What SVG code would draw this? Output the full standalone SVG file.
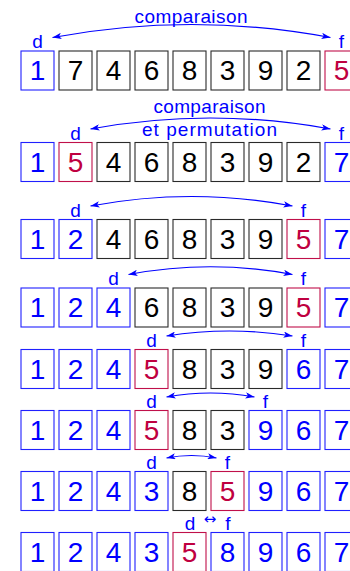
<svg xmlns="http://www.w3.org/2000/svg" width="350" height="571" viewBox="0 0 350 571">
<defs>
<marker id="ah" viewBox="0 0 10 7" refX="10" refY="3.5" markerWidth="9" markerHeight="6.3" markerUnits="userSpaceOnUse" orient="auto-start-reverse">
<path d="M0,0 L10,3.5 L0,7 L2.5,3.5 z" fill="#0000ff"/>
</marker>
<style>
rect{fill:none;stroke-width:1.1}
.b rect{stroke:#2020ff}
.k rect{stroke:#2a2a2a}
.r rect{stroke:#c0104a}
text{font-family:"Liberation Sans",Arial,sans-serif;text-anchor:middle}
.b text{fill:#0000ff;font-size:28px}
.k text{fill:#000;font-size:28px}
.r text{fill:#bf0040;font-size:28px}
.lbl{fill:#0000ff;font-size:19px}
.sym{fill:#0000ff;font-size:15px;font-family:"DejaVu Sans",sans-serif}
.arr{fill:none;stroke:#0000ff;stroke-width:1.2;marker-start:url(#ah);marker-end:url(#ah)}
</style>
</defs>
<rect x="0" y="0" width="350" height="571" style="fill:#fff;stroke:none"/>

<!-- Row 1 -->
<g id="row1">
<g id="r1c1" class="b"><rect x="21" y="51" width="33" height="39"/><text x="37.5" y="80">1</text></g>
<g id="r1c2" class="k"><rect x="59" y="51" width="33" height="39"/><text x="75.5" y="80">7</text></g>
<g id="r1c3" class="k"><rect x="97" y="51" width="33" height="39"/><text x="113.5" y="80">4</text></g>
<g id="r1c4" class="k"><rect x="135" y="51" width="33" height="39"/><text x="151.5" y="80">6</text></g>
<g id="r1c5" class="k"><rect x="173" y="51" width="33" height="39"/><text x="189.5" y="80">8</text></g>
<g id="r1c6" class="k"><rect x="211" y="51" width="33" height="39"/><text x="227.5" y="80">3</text></g>
<g id="r1c7" class="k"><rect x="249" y="51" width="33" height="39"/><text x="265.5" y="80">9</text></g>
<g id="r1c8" class="k"><rect x="287" y="51" width="33" height="39"/><text x="303.5" y="80">2</text></g>
<g id="r1c9" class="r"><rect x="325" y="51" width="33" height="39"/><text x="341.5" y="80">5</text></g>
<g id="r1d"><text class="lbl" x="37.5" y="48">d</text></g>
<g id="r1f"><text class="lbl" x="341.5" y="48">f</text></g>
<g id="r1t"><text class="lbl" x="191" y="22.5" textLength="113" lengthAdjust="spacing">comparaison</text></g>
</g>

<!-- Row 2 -->
<g id="row2">
<g id="r2c1" class="b"><rect x="21" y="142.5" width="33" height="39"/><text x="37.5" y="171.5">1</text></g>
<g id="r2c2" class="r"><rect x="59" y="142.5" width="33" height="39"/><text x="75.5" y="171.5">5</text></g>
<g id="r2c3" class="k"><rect x="97" y="142.5" width="33" height="39"/><text x="113.5" y="171.5">4</text></g>
<g id="r2c4" class="k"><rect x="135" y="142.5" width="33" height="39"/><text x="151.5" y="171.5">6</text></g>
<g id="r2c5" class="k"><rect x="173" y="142.5" width="33" height="39"/><text x="189.5" y="171.5">8</text></g>
<g id="r2c6" class="k"><rect x="211" y="142.5" width="33" height="39"/><text x="227.5" y="171.5">3</text></g>
<g id="r2c7" class="k"><rect x="249" y="142.5" width="33" height="39"/><text x="265.5" y="171.5">9</text></g>
<g id="r2c8" class="k"><rect x="287" y="142.5" width="33" height="39"/><text x="303.5" y="171.5">2</text></g>
<g id="r2c9" class="b"><rect x="325" y="142.5" width="33" height="39"/><text x="341.5" y="171.5">7</text></g>
<g id="r2d"><text class="lbl" x="75.5" y="139.5">d</text></g>
<g id="r2f"><text class="lbl" x="341.5" y="139.5">f</text></g>
<g id="r2t"><text class="lbl" x="209.5" y="113" textLength="112" lengthAdjust="spacing">comparaison</text><text class="lbl" x="209.5" y="136" textLength="135" lengthAdjust="spacing">et permutation</text></g>
</g>

<!-- Row 3 -->
<g id="row3">
<g id="r3c1" class="b"><rect x="21" y="219.5" width="33" height="39"/><text x="37.5" y="248.5">1</text></g>
<g id="r3c2" class="b"><rect x="59" y="219.5" width="33" height="39"/><text x="75.5" y="248.5">2</text></g>
<g id="r3c3" class="k"><rect x="97" y="219.5" width="33" height="39"/><text x="113.5" y="248.5">4</text></g>
<g id="r3c4" class="k"><rect x="135" y="219.5" width="33" height="39"/><text x="151.5" y="248.5">6</text></g>
<g id="r3c5" class="k"><rect x="173" y="219.5" width="33" height="39"/><text x="189.5" y="248.5">8</text></g>
<g id="r3c6" class="k"><rect x="211" y="219.5" width="33" height="39"/><text x="227.5" y="248.5">3</text></g>
<g id="r3c7" class="k"><rect x="249" y="219.5" width="33" height="39"/><text x="265.5" y="248.5">9</text></g>
<g id="r3c8" class="r"><rect x="287" y="219.5" width="33" height="39"/><text x="303.5" y="248.5">5</text></g>
<g id="r3c9" class="b"><rect x="325" y="219.5" width="33" height="39"/><text x="341.5" y="248.5">7</text></g>
<g id="r3d"><text class="lbl" x="75.5" y="216.5">d</text></g>
<g id="r3f"><text class="lbl" x="303.5" y="216.5">f</text></g>
</g>

<!-- Row 4 -->
<g id="row4">
<g id="r4c1" class="b"><rect x="21" y="288" width="33" height="39"/><text x="37.5" y="317">1</text></g>
<g id="r4c2" class="b"><rect x="59" y="288" width="33" height="39"/><text x="75.5" y="317">2</text></g>
<g id="r4c3" class="b"><rect x="97" y="288" width="33" height="39"/><text x="113.5" y="317">4</text></g>
<g id="r4c4" class="k"><rect x="135" y="288" width="33" height="39"/><text x="151.5" y="317">6</text></g>
<g id="r4c5" class="k"><rect x="173" y="288" width="33" height="39"/><text x="189.5" y="317">8</text></g>
<g id="r4c6" class="k"><rect x="211" y="288" width="33" height="39"/><text x="227.5" y="317">3</text></g>
<g id="r4c7" class="k"><rect x="249" y="288" width="33" height="39"/><text x="265.5" y="317">9</text></g>
<g id="r4c8" class="r"><rect x="287" y="288" width="33" height="39"/><text x="303.5" y="317">5</text></g>
<g id="r4c9" class="b"><rect x="325" y="288" width="33" height="39"/><text x="341.5" y="317">7</text></g>
<g id="r4d"><text class="lbl" x="113.5" y="285">d</text></g>
<g id="r4f"><text class="lbl" x="303.5" y="285">f</text></g>
</g>

<!-- Row 5 -->
<g id="row5">
<g id="r5c1" class="b"><rect x="21" y="349.5" width="33" height="39"/><text x="37.5" y="378.5">1</text></g>
<g id="r5c2" class="b"><rect x="59" y="349.5" width="33" height="39"/><text x="75.5" y="378.5">2</text></g>
<g id="r5c3" class="b"><rect x="97" y="349.5" width="33" height="39"/><text x="113.5" y="378.5">4</text></g>
<g id="r5c4" class="r"><rect x="135" y="349.5" width="33" height="39"/><text x="151.5" y="378.5">5</text></g>
<g id="r5c5" class="k"><rect x="173" y="349.5" width="33" height="39"/><text x="189.5" y="378.5">8</text></g>
<g id="r5c6" class="k"><rect x="211" y="349.5" width="33" height="39"/><text x="227.5" y="378.5">3</text></g>
<g id="r5c7" class="k"><rect x="249" y="349.5" width="33" height="39"/><text x="265.5" y="378.5">9</text></g>
<g id="r5c8" class="b"><rect x="287" y="349.5" width="33" height="39"/><text x="303.5" y="378.5">6</text></g>
<g id="r5c9" class="b"><rect x="325" y="349.5" width="33" height="39"/><text x="341.5" y="378.5">7</text></g>
<g id="r5d"><text class="lbl" x="151.5" y="346.5">d</text></g>
<g id="r5f"><text class="lbl" x="303.5" y="346.5">f</text></g>
</g>

<!-- Row 6 -->
<g id="row6">
<g id="r6c1" class="b"><rect x="21" y="410.5" width="33" height="39"/><text x="37.5" y="439.5">1</text></g>
<g id="r6c2" class="b"><rect x="59" y="410.5" width="33" height="39"/><text x="75.5" y="439.5">2</text></g>
<g id="r6c3" class="b"><rect x="97" y="410.5" width="33" height="39"/><text x="113.5" y="439.5">4</text></g>
<g id="r6c4" class="r"><rect x="135" y="410.5" width="33" height="39"/><text x="151.5" y="439.5">5</text></g>
<g id="r6c5" class="k"><rect x="173" y="410.5" width="33" height="39"/><text x="189.5" y="439.5">8</text></g>
<g id="r6c6" class="k"><rect x="211" y="410.5" width="33" height="39"/><text x="227.5" y="439.5">3</text></g>
<g id="r6c7" class="b"><rect x="249" y="410.5" width="33" height="39"/><text x="265.5" y="439.5">9</text></g>
<g id="r6c8" class="b"><rect x="287" y="410.5" width="33" height="39"/><text x="303.5" y="439.5">6</text></g>
<g id="r6c9" class="b"><rect x="325" y="410.5" width="33" height="39"/><text x="341.5" y="439.5">7</text></g>
<g id="r6d"><text class="lbl" x="151.5" y="407.5">d</text></g>
<g id="r6f"><text class="lbl" x="265.5" y="407.5">f</text></g>
</g>

<!-- Row 7 -->
<g id="row7">
<g id="r7c1" class="b"><rect x="21" y="471.5" width="33" height="39"/><text x="37.5" y="500.5">1</text></g>
<g id="r7c2" class="b"><rect x="59" y="471.5" width="33" height="39"/><text x="75.5" y="500.5">2</text></g>
<g id="r7c3" class="b"><rect x="97" y="471.5" width="33" height="39"/><text x="113.5" y="500.5">4</text></g>
<g id="r7c4" class="b"><rect x="135" y="471.5" width="33" height="39"/><text x="151.5" y="500.5">3</text></g>
<g id="r7c5" class="k"><rect x="173" y="471.5" width="33" height="39"/><text x="189.5" y="500.5">8</text></g>
<g id="r7c6" class="r"><rect x="211" y="471.5" width="33" height="39"/><text x="227.5" y="500.5">5</text></g>
<g id="r7c7" class="b"><rect x="249" y="471.5" width="33" height="39"/><text x="265.5" y="500.5">9</text></g>
<g id="r7c8" class="b"><rect x="287" y="471.5" width="33" height="39"/><text x="303.5" y="500.5">6</text></g>
<g id="r7c9" class="b"><rect x="325" y="471.5" width="33" height="39"/><text x="341.5" y="500.5">7</text></g>
<g id="r7d"><text class="lbl" x="151.5" y="468.5">d</text></g>
<g id="r7f"><text class="lbl" x="227.5" y="468.5">f</text></g>
</g>

<!-- Row 8 -->
<g id="row8">
<g id="r8c1" class="b"><rect x="21" y="532.5" width="33" height="39"/><text x="37.5" y="561.5">1</text></g>
<g id="r8c2" class="b"><rect x="59" y="532.5" width="33" height="39"/><text x="75.5" y="561.5">2</text></g>
<g id="r8c3" class="b"><rect x="97" y="532.5" width="33" height="39"/><text x="113.5" y="561.5">4</text></g>
<g id="r8c4" class="b"><rect x="135" y="532.5" width="33" height="39"/><text x="151.5" y="561.5">3</text></g>
<g id="r8c5" class="r"><rect x="173" y="532.5" width="33" height="39"/><text x="189.5" y="561.5">5</text></g>
<g id="r8c6" class="b"><rect x="211" y="532.5" width="33" height="39"/><text x="227.5" y="561.5">8</text></g>
<g id="r8c7" class="b"><rect x="249" y="532.5" width="33" height="39"/><text x="265.5" y="561.5">9</text></g>
<g id="r8c8" class="b"><rect x="287" y="532.5" width="33" height="39"/><text x="303.5" y="561.5">6</text></g>
<g id="r8c9" class="b"><rect x="325" y="532.5" width="33" height="39"/><text x="341.5" y="561.5">7</text></g>
<g id="r8d"><text class="lbl" x="190" y="529.5">d</text></g>
<g id="r8f"><text class="lbl" x="228" y="529.5">f</text></g>
<g id="r8s"><text class="sym" x="210" y="524">↔</text></g>
</g>

<g id="connectors">
<path class="arr" d="M52.5,37.5 Q191.5,11.5 330.5,37.5"/>
<path class="arr" d="M90.5,129 Q210.5,107 330.5,129"/>
<path class="arr" d="M90.5,206 Q191.5,187 292.5,206"/>
<path class="arr" d="M128.5,274.5 Q210.5,259 292.5,274.5"/>
<path class="arr" d="M166.5,336 Q229.5,326 292.5,336"/>
<path class="arr" d="M166.5,397 Q210.5,389 254.5,397"/>
<path class="arr" d="M166.5,458 Q191.5,453 216.5,458"/>
</g>
</svg>
